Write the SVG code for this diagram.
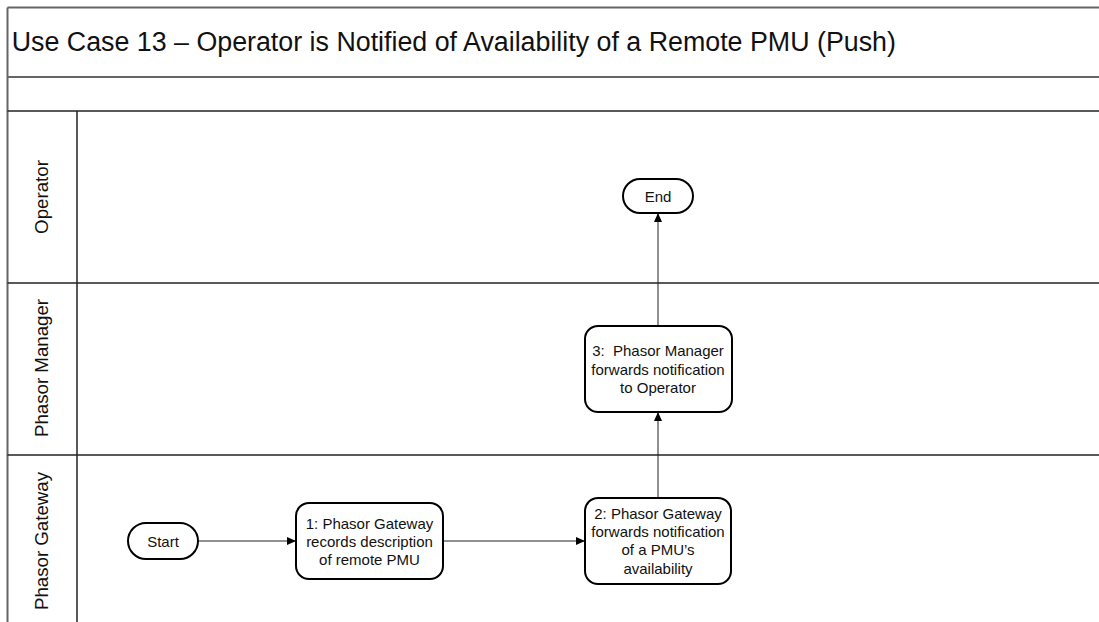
<svg xmlns="http://www.w3.org/2000/svg" width="1099" height="622" viewBox="0 0 1099 622">
<defs>
<marker id="ah" markerWidth="10" markerHeight="10" refX="9" refY="5" orient="auto" markerUnits="userSpaceOnUse">
<path d="M0,1 L9,5 L0,9 Z" fill="#000"/>
</marker>
<style>
.frame{stroke:#666;stroke-width:2;fill:none}
.lane{stroke:#222;stroke-width:1.5;fill:none}
.node{fill:#fff;stroke:#000;stroke-width:2}
.t{font-family:"Liberation Sans",Arial,sans-serif;fill:#111;text-anchor:middle}
.nt{font-size:15px}
.lt{font-size:18.7px}
.conn{stroke:#222;stroke-width:1;fill:none;marker-end:url(#ah)}
</style>
</defs>
<rect width="1099" height="622" fill="#fff"/>
<g id="frame">
<line class="frame" x1="7.5" y1="7.5" x2="1099" y2="7.5"/>
<line class="frame" x1="7.5" y1="77" x2="1099" y2="77"/>
<line class="frame" x1="7.5" y1="7.5" x2="7.5" y2="622"/>
<line class="lane" x1="7.5" y1="111" x2="1099" y2="111"/>
<line class="lane" x1="7.5" y1="283" x2="1099" y2="283"/>
<line class="lane" x1="7.5" y1="455" x2="1099" y2="455"/>
<line class="lane" x1="77" y1="111" x2="77" y2="622"/>
<text x="11.7" y="51" font-family="'Liberation Sans',Arial,sans-serif" font-size="26.8" fill="#111">Use Case 13 – Operator is Notified of Availability of a Remote PMU (Push)</text>
</g>
<g id="lane-operator"><text class="t lt" transform="translate(48,197) rotate(-90)">Operator</text></g>
<g id="lane-manager"><text class="t lt" transform="translate(48,368) rotate(-90)">Phasor Manager</text></g>
<g id="lane-gateway"><text class="t lt" transform="translate(48,541) rotate(-90)">Phasor Gateway</text></g>
<g id="connectors">
<line class="conn" x1="198" y1="541" x2="296" y2="541"/>
<line class="conn" x1="443" y1="541" x2="585" y2="541"/>
<line class="conn" x1="658" y1="498" x2="658" y2="412"/>
<line class="conn" x1="658" y1="326" x2="658" y2="213"/>
</g>
<g id="start">
<rect class="node" x="128" y="523" width="70" height="36" rx="18"/>
<text class="t nt" x="163" y="546.5">Start</text>
</g>
<g id="step1">
<rect class="node" x="296" y="503" width="147" height="76" rx="13"/>
<text class="t nt" x="369.5" y="528.5">1: Phasor Gateway</text>
<text class="t nt" x="369.5" y="547">records description</text>
<text class="t nt" x="369.5" y="565.3">of remote PMU</text>
</g>
<g id="step2">
<rect class="node" x="585" y="498" width="146" height="86" rx="13"/>
<text class="t nt" x="658" y="518.5">2: Phasor Gateway</text>
<text class="t nt" x="658" y="537">forwards notification</text>
<text class="t nt" x="658" y="555.3">of a PMU’s</text>
<text class="t nt" x="658" y="573.6">availability</text>
</g>
<g id="step3">
<rect class="node" x="585" y="326" width="147" height="86" rx="13"/>
<text class="t nt" x="658" y="356.3" xml:space="preserve">3:  Phasor Manager</text>
<text class="t nt" x="658" y="374.6">forwards notification</text>
<text class="t nt" x="658" y="392.6">to Operator</text>
</g>
<g id="end">
<rect class="node" x="623" y="179" width="70" height="34" rx="17"/>
<text class="t nt" x="658" y="202">End</text>
</g>
</svg>
